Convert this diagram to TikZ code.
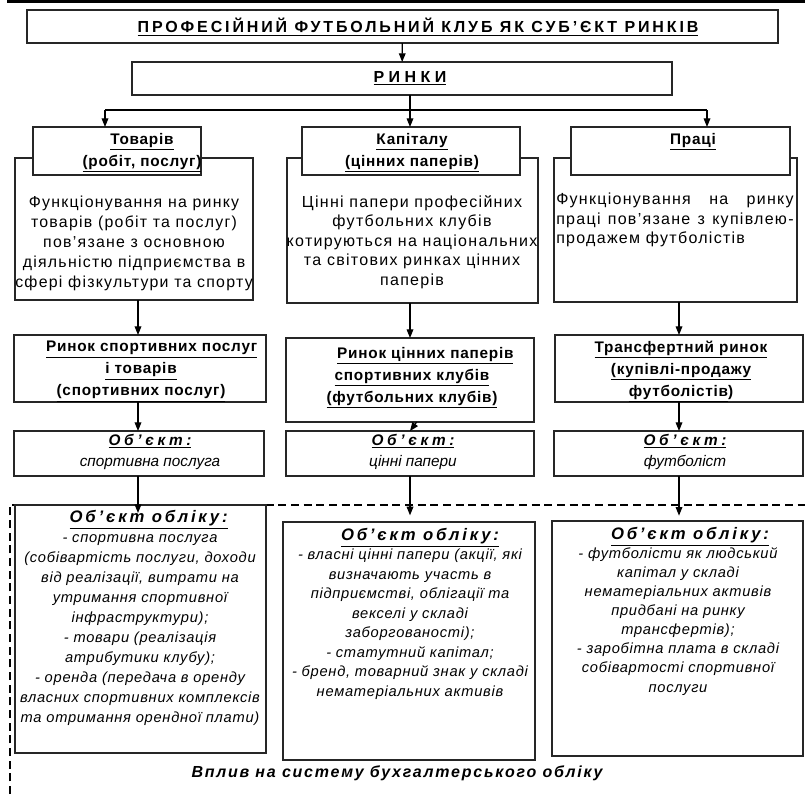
\documentclass[tikz,border=0pt]{standalone}
\usepackage{fontspec}
\setmainfont{Liberation Sans}
\newfontfamily\ttlfont[LetterSpace=18]{Liberation Sans}
\newfontfamily\mktfont[LetterSpace=28]{Liberation Sans}
\newfontfamily\bodyfont[LetterSpace=8]{Liberation Sans}
\newfontfamily\headfont[LetterSpace=5]{Liberation Sans}
\newfontfamily\objfont[LetterSpace=24]{Liberation Sans}
\newfontfamily\accfont[LetterSpace=17]{Liberation Sans}
\newfontfamily\listfont[LetterSpace=5]{Liberation Sans}
\newfontfamily\footfont[LetterSpace=11]{Liberation Sans}
\usetikzlibrary{arrows.meta}
\newcommand{\undl}[1]{\underline{#1}}
\begin{document}
\begin{tikzpicture}[x=0.75pt,y=0.75pt,yscale=-1,
  bx/.style 2 args={draw=black!85,line width=1pt,fill=white,inner sep=0pt,outer sep=0pt,
    anchor=north west,minimum width=#1*0.75pt,minimum height=#2*0.75pt},
  txt/.style={inner sep=0pt,align=center},
  arr/.style={-{Triangle[length=6.5pt,width=5pt]},line width=0.9pt},
  dsh/.style={dash pattern=on 6pt off 3.5pt,line width=0.8pt}]
\useasboundingbox (0,0) rectangle (805,794);

%Straight Lines (top rule)
\draw [line width=2.2pt] (7,1.5) -- (805,1.5) ;

%Shape: Rectangle
\node [bx={751}{33}] (club) at (27,10) {};
%Shape: Rectangle
\node [bx={540}{33}] (mkts) at (132,62) {};

%Shape: Rectangle
\node [bx={238}{142}] (funcL) at (15,158) {};
\node [bx={251}{145}] (funcM) at (287,158) {};
\node [bx={243}{144}] (funcR) at (554,158) {};
%Shape: Rectangle
\node [bx={168}{48}] (hdrL) at (33,127) {};
\node [bx={218}{48}] (hdrM) at (302,127) {};
\node [bx={219}{48}] (hdrR) at (571,127) {};

%Shape: Rectangle
\node [bx={252}{67}] (mkL) at (14,335) {};
\node [bx={248}{84}] (mkM) at (286,338) {};
\node [bx={248}{67}] (mkR) at (555,335) {};
%Shape: Rectangle
\node [bx={250}{45}] (objL) at (14,431) {};
\node [bx={248}{45}] (objM) at (286,431) {};
\node [bx={249}{45}] (objR) at (554,431) {};

%Dashed frame
\coordinate (fr1) at (10,794);
\coordinate (fr2) at (10,505);
\coordinate (fr3) at (805,505);
\draw [dsh] (fr1) -- (fr2) -- (fr3) ;

%Shape: Rectangle
\node [bx={251}{248}] (accL) at (15,505) {};
\node [bx={252}{238}] (accM) at (283,522) {};
\node [bx={251}{235}] (accR) at (552,521) {};

%Columns
\coordinate (cL) at (138,0);
\coordinate (cM) at (410,0);
\coordinate (cR) at (679,0);
\coordinate (jL) at (105,110);
\coordinate (jR) at (707,110);

%Connectors
\draw [arr] (club) -- (mkts) ;
\draw [arr] (mkts.south -| cM) -- (hdrM.north -| cM) ;
\draw [line width=0.9pt] (jL) -- (jR) ;
\draw [arr] (jL) -- (hdrL.north -| jL) ;
\draw [arr] (jR) -- (hdrR.north -| jR) ;
\draw [arr] (funcL.south -| cL) -- (mkL.north -| cL) ;
\draw [arr] (funcM.south -| cM) -- (mkM.north -| cM) ;
\draw [arr] (funcR.south -| cR) -- (mkR.north -| cR) ;
\draw [arr] (mkL.south -| cL) -- (objL.north -| cL) ;
\draw [arr] ([xshift=5pt]mkM.south -| cM) -- (objM.north -| cM) ;
\draw [arr] (mkR.south -| cR) -- (objR.north -| cR) ;
\draw [arr,shorten >=-6pt] (objL.south -| cL) -- (accL.north -| cL) ;
\draw [arr,shorten >=5pt] (objM.south -| cM) -- (accM.north -| cM) ;
\draw [arr,shorten >=4pt] (objR.south -| cR) -- (accR.north -| cR) ;

% Text Node
\node [txt,font=\ttlfont\bfseries\fontsize{12}{14}\selectfont] (tClub) at (418,27) {\undl{ПРОФЕСІЙНИЙ ФУТБОЛЬНИЙ КЛУБ ЯК СУБ’ЄКТ РИНКІВ}};
% Text Node
\node [txt,font=\mktfont\bfseries\fontsize{12}{14}\selectfont] (tMkts) at (410,78) {\undl{РИНКИ}};

% Text Node
\node [txt,anchor=north,font=\headfont\bfseries\fontsize{11.5}{16.5}\selectfont] (tHdrL) at (142,133) {\undl{Товарів}\\\undl{(робіт, послуг)}};
\node [txt,anchor=north,font=\headfont\bfseries\fontsize{11.5}{16.5}\selectfont] (tHdrM) at (412,133) {\undl{Капіталу}\\\undl{(цінних паперів)}};
\node [txt,anchor=north,font=\headfont\bfseries\fontsize{11.5}{16.5}\selectfont] (tHdrR) at (693,133) {\undl{Праці}};

% Text Node
\node [txt,anchor=north,font=\bodyfont\fontsize{11.9}{15}\selectfont] (tFuncL) at (134,196) {Функціонування на ринку\\товарів (робіт та послуг)\\пов’язане з основною\\діяльністю підприємства в\\сфері фізкультури та спорту};
\node [txt,anchor=north,font=\bodyfont\fontsize{12}{14.6}\selectfont] (tFuncM) at (412,195) {Цінні папери професійних\\футбольних клубів\\котируються на національних\\та світових ринках цінних\\паперів};
\node [txt,anchor=north west,align=left,font=\bodyfont\fontsize{12}{14.4}\selectfont] (tFuncR) at (556,193) {\makebox[178pt][s]{Функціонування на ринку}\\\makebox[178pt][s]{праці пов’язане з купівлею-}\\продажем футболістів};

% Text Node
\node [txt,anchor=north,font=\headfont\bfseries\fontsize{11.5}{16.5}\selectfont] (tMkL) at (141,341) {\hspace{16pt}\undl{Ринок спортивних послуг}\\\undl{і товарів}\\\undl{(спортивних послуг)}};
\node [txt,anchor=north,font=\headfont\bfseries\fontsize{11.5}{16.5}\selectfont] (tMkM) at (412,347) {\hspace{20pt}\undl{Ринок цінних паперів}\\\undl{спортивних клубів}\\\undl{(футбольних клубів)}};
\node [txt,anchor=north,font=\headfont\bfseries\fontsize{11.5}{16.5}\selectfont] (tMkR) at (681,341) {\undl{Трансфертний ринок}\\\undl{(купівлі-продажу}\\\undl{футболістів})};

% Text Node
\node [txt,anchor=north,font=\fontsize{11.5}{16}\selectfont] (tObjL) at (150,434) {{\objfont\bfseries\itshape\undl{Об’єкт:}}\\\itshape спортивна послуга};
\node [txt,anchor=north,font=\fontsize{11.5}{16}\selectfont] (tObjM) at (413,434) {{\objfont\bfseries\itshape\undl{Об’єкт:}}\\\itshape цінні папери};
\node [txt,anchor=north,font=\fontsize{11.5}{16}\selectfont] (tObjR) at (685,434) {{\objfont\bfseries\itshape\undl{Об’єкт:}}\\\itshape футболіст};

% Text Node
\node [txt,anchor=north,font=\listfont\itshape\fontsize{11}{15}\selectfont] (tAccL) at (140,510) {\hspace{13pt}{\accfont\bfseries\fontsize{12.5}{15}\selectfont\undl{Об’єкт обліку:}}\\- спортивна послуга\\(собівартість послуги, доходи\\від реалізації, витрати на\\утримання спортивної\\інфраструктури);\\- товари (реалізація\\атрибутики клубу);\\- оренда (передача в оренду\\власних спортивних комплексів\\та отримання орендної плати)};
\node [txt,anchor=north,font=\listfont\itshape\fontsize{11}{14.6}\selectfont] (tAccM) at (410,528) {\hspace{15pt}{\accfont\bfseries\fontsize{12.5}{15}\selectfont\undl{Об’єкт обліку:}}\\- власні цінні папери (акції, які\\визначають участь в\\підприємстві, облігації та\\векселі у складі\\заборгованості);\\- статутний капітал;\\- бренд, товарний знак у складі\\нематеріальних активів};
\node [txt,anchor=north,font=\listfont\itshape\fontsize{11}{14.3}\selectfont] (tAccR) at (678,527) {\hspace{18pt}{\accfont\bfseries\fontsize{12.5}{15}\selectfont\undl{Об’єкт обліку:}}\\- футболісти як людський\\капітал у складі\\нематеріальних активів\\придбані на ринку\\трансфертів);\\- заробітна плата в складі\\собівартості спортивної\\послуги};

% Text Node
\node [txt,font=\footfont\bfseries\itshape\fontsize{12}{14}\selectfont] (tFoot) at (397,773) {Вплив на систему бухгалтерського обліку};

\end{tikzpicture}
\end{document}
